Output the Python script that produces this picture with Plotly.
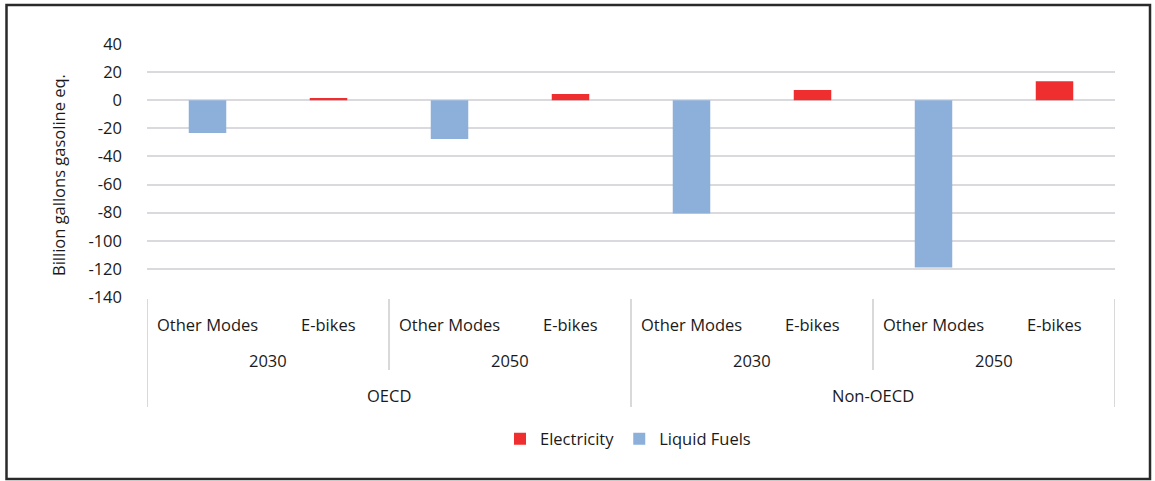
import plotly.graph_objects as go

# ---- data ----
categories = ["Other Modes", "E-bikes", "Other Modes", "E-bikes",
              "Other Modes", "E-bikes", "Other Modes", "E-bikes"]
years = ["2030", "2050", "2030", "2050"]
regions = ["OECD", "Non-OECD"]
liquid_fuels = [-23.4, None, -27.6, None, -80.6, None, -119.0, None]
electricity = [None, 1.5, None, 4.5, None, 7.3, None, 13.5]
y_ticks = [40, 20, 0, -20, -40, -60, -80, -100, -120, -140]

# ---- layout geometry (pixels) ----
W, H = 1155, 481
L, R, T, B = 147, 40, 44, 184
PH = H - T - B
PW = W - L - R

def py(pix):  # pixel y -> paper y
    return (H - B - pix) / PH

def px(pix):  # pixel x -> paper x
    return (pix - L) / PW

FONT = "Open Sans"
FS = 16.5
TXT = "#1a1a1a"
x = list(range(len(categories)))

fig = go.Figure()
fig.add_trace(go.Bar(x=x, y=electricity, name="Electricity",
                     marker=dict(color="#EE2E2F", line=dict(width=0)),
                     width=0.31))
fig.add_trace(go.Bar(x=x, y=liquid_fuels, name="Liquid Fuels",
                     marker=dict(color="#8DB0DA", line=dict(width=0)),
                     width=0.31))

annotations = []
for i, c in enumerate(categories):
    annotations.append(dict(x=i, y=py(324), xref="x", yref="paper", text=c,
                            showarrow=False, yanchor="middle",
                            font=dict(family=FONT, size=FS, color=TXT)))
for j, yr in enumerate(years):
    annotations.append(dict(x=2 * j + 0.5, y=py(361), xref="x", yref="paper", text=yr,
                            showarrow=False, yanchor="middle",
                            font=dict(family=FONT, size=FS, color=TXT)))
for k, rg in enumerate(regions):
    annotations.append(dict(x=4 * k + 1.5, y=py(395), xref="x", yref="paper", text=rg,
                            showarrow=False, yanchor="middle",
                            font=dict(family=FONT, size=FS, color=TXT)))
annotations.append(dict(x=px(58), y=py(175), xref="paper", yref="paper",
                        text="Billion gallons gasoline eq.", textangle=-90,
                        showarrow=False, xanchor="center", yanchor="middle",
                        font=dict(family=FONT, size=FS, color=TXT)))

shapes = []
n = len(categories)
for b in range(0, n + 1, 2):
    bx = b - 0.5
    is_region = (b % 4 == 0)
    shapes.append(dict(type="line", xref="x", yref="paper", x0=bx, x1=bx,
                       y0=py(299), y1=py(407 if is_region else 370),
                       line=dict(color="#D9D9D9", width=2)))
shapes.append(dict(type="rect", xref="paper", yref="paper",
                   x0=px(6.5), x1=px(1150), y0=py(479), y1=py(5),
                   line=dict(color="#2A2A2A", width=2.5), layer="above"))

fig.update_layout(
    width=W, height=H,
    margin=dict(l=L, r=R, t=T, b=B),
    paper_bgcolor="white", plot_bgcolor="white",
    barmode="relative",
    showlegend=True,
    legend=dict(orientation="h", x=px(628), y=py(439), xanchor="center", yanchor="middle",
                font=dict(family=FONT, size=FS, color=TXT), traceorder="normal",
                itemwidth=30, tracegroupgap=0),
    xaxis=dict(range=[-0.5, n - 0.5], showticklabels=False, showgrid=False,
               zeroline=False, showline=False, ticks=""),
    yaxis=dict(range=[-140, 40], tickvals=y_ticks, ticktext=[str(v) for v in y_ticks],
               showgrid=True, gridcolor="#D9D9DE", gridwidth=2,
               zeroline=True, zerolinecolor="#D9D9DE", zerolinewidth=2,
               showline=False, ticks="", ticklabelstandoff=24,
               tickfont=dict(family=FONT, size=FS, color=TXT)),
    annotations=annotations,
    shapes=shapes,
    font=dict(family=FONT),
)

fig.write_html("out.html", config={"displayModeBar": False},
               post_script="document.body.style.margin='0';document.body.style.overflow='hidden';")
